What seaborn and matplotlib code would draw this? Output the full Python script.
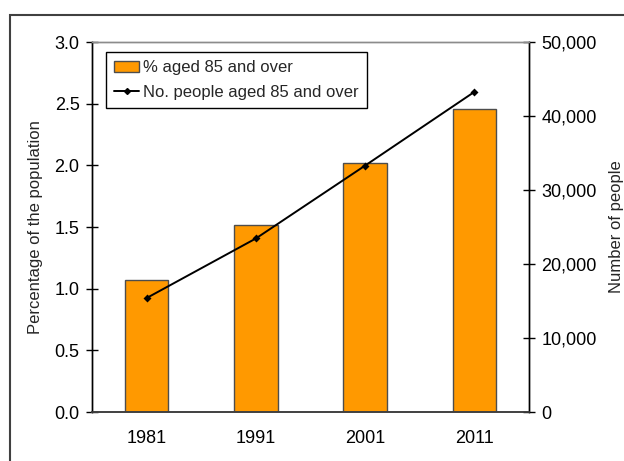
import matplotlib
matplotlib.use("Agg")
import matplotlib.pyplot as plt
from matplotlib.lines import Line2D
from matplotlib.patches import Patch, Rectangle
from matplotlib.ticker import FuncFormatter, FixedLocator
import seaborn as sns

years = ["1981", "1991", "2001", "2011"]
pct_85_over = [1.07, 1.52, 2.02, 2.46]
people_85_over = [15400, 23450, 33300, 43260]

BAR_COLOR = "#FF9900"

sns.set_style("white")
plt.rcParams["font.family"] = ["Liberation Sans", "DejaVu Sans"]

fig = plt.figure(figsize=(6.24, 4.61), dpi=100)
ax = fig.add_axes([92 / 624, 1 - 412 / 461, (529 - 92) / 624, (412 - 42) / 461])
ax2 = ax.twinx()

sns.barplot(x=years, y=pct_85_over, ax=ax, color=BAR_COLOR, saturation=1,
            width=0.4, edgecolor="#4d4d4d", linewidth=1)
sns.pointplot(x=years, y=people_85_over, ax=ax2, color="black", markers="D",
              markersize=3, linewidth=1.4, errorbar=None)

ax.set_xlim(-0.5, 3.5)
ax.set_ylim(0, 3.0)
ax2.set_ylim(0, 50000)
ax.set_yticks([0, 0.5, 1.0, 1.5, 2.0, 2.5, 3.0])
ax.yaxis.set_major_formatter(FuncFormatter(lambda v, p: "%.1f" % v))
ax2.set_yticks(range(0, 50001, 10000))
ax2.yaxis.set_major_formatter(FuncFormatter(lambda v, p: "{:,.0f}".format(v)))

ax.xaxis.set_minor_locator(FixedLocator([-0.5, 0.5, 1.5, 2.5, 3.5]))
ax.tick_params(axis="x", which="major", length=0, pad=13, labelsize=13, colors="black")
ax.tick_params(axis="x", which="minor", direction="inout", length=8, width=1, color="#404040")
ax.tick_params(axis="y", direction="inout", length=8, width=1, pad=5, labelsize=13, colors="black")
ax2.tick_params(axis="y", direction="inout", length=8, width=1, pad=5, labelsize=13, colors="black")

for a in (ax, ax2):
    a.spines["top"].set_color("#8c8c8c")
    a.spines["top"].set_linewidth(1)
    a.spines["bottom"].set_color("#404040")
    a.spines["bottom"].set_linewidth(1.2)
    a.spines["left"].set_color("black")
    a.spines["right"].set_color("black")
    a.spines["left"].set_linewidth(1)
    a.spines["right"].set_linewidth(1)
ax.set_xlabel("")
ax.set_ylabel("Percentage of the population", fontsize=12, labelpad=8)
ax2.set_ylabel("Number of people", fontsize=12, labelpad=9)

handles = [
    Patch(facecolor=BAR_COLOR, edgecolor="#4d4d4d", linewidth=1),
    Line2D([0], [0], color="black", linewidth=1.4, marker="D", markersize=3),
]
labels = ["% aged 85 and over", "No. people aged 85 and over"]
leg = ax2.legend(handles, labels, loc="upper left", bbox_to_anchor=(106 / 624, 1 - 52 / 461),
                 bbox_transform=fig.transFigure, borderaxespad=0, fancybox=False,
                 framealpha=1, edgecolor="black", fontsize=12, handlelength=1.5,
                 handletextpad=0.2, labelspacing=0.55, borderpad=0.5)
leg.get_frame().set_linewidth(1)

# outer frame of the chart area
fig.patches.append(Rectangle((10 / 624, -0.5), 2, 1.5 - 15 / 461, transform=fig.transFigure,
                             fill=False, edgecolor="#404040", linewidth=1.5, clip_on=False))

fig.savefig("out.png", dpi=100)
